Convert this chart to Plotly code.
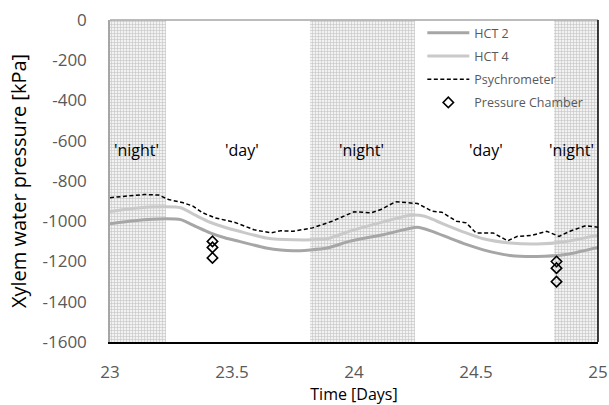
import plotly.graph_objects as go

# ---- data ----
hct2_t = [23.00, 23.10, 23.23, 23.29, 23.35, 23.41, 23.47, 23.53, 23.64, 23.75, 23.89, 23.98, 24.12, 24.26, 24.32, 24.39, 24.46, 24.53, 24.64, 24.75, 24.86, 25.00]
hct2_v = [-1012, -997, -988, -992, -1025, -1058, -1082, -1100, -1133, -1147, -1133, -1100, -1067, -1030, -1050, -1083, -1115, -1142, -1170, -1175, -1167, -1130]

hct4_t = [23.00, 23.10, 23.23, 23.29, 23.35, 23.41, 23.47, 23.53, 23.64, 23.75, 23.89, 23.98, 24.12, 24.23, 24.29, 24.34, 24.39, 24.46, 24.53, 24.64, 24.75, 24.86, 25.00]
hct4_v = [-952, -935, -928, -933, -970, -1005, -1030, -1050, -1083, -1092, -1087, -1050, -1003, -970, -975, -1000, -1025, -1058, -1087, -1108, -1113, -1103, -1070]

psy_t = [23.00, 23.06, 23.14, 23.20, 23.24, 23.30, 23.34, 23.38, 23.43, 23.51, 23.59, 23.66, 23.70, 23.75, 23.83, 23.91, 24.00, 24.07, 24.11, 24.17, 24.26, 24.32, 24.36, 24.42, 24.46, 24.50, 24.57, 24.63, 24.67, 24.73, 24.79, 24.84, 24.89, 24.95, 25.00]
psy_v = [-883, -875, -867, -870, -892, -908, -925, -958, -983, -1005, -1042, -1058, -1047, -1050, -1033, -1000, -953, -958, -942, -903, -912, -950, -955, -1000, -1008, -1058, -1058, -1097, -1075, -1070, -1050, -1075, -1047, -1022, -1030]

pc_t = [23.42, 23.42, 23.42, 24.83, 24.83, 24.83]
pc_v = [-1100, -1130, -1182, -1200, -1233, -1300]

night_start = [23.00, 23.82, 24.82]
night_end = [23.23, 24.25, 25.00]

label_text = ["'night'", "'day'", "'night'", "'day'", "'night'"]
label_t = [23.11, 23.54, 24.03, 24.54, 24.89]
label_v = [-645, -645, -645, -645, -645]

x_ticks = [23, 23.5, 24, 24.5, 25]
x_ticktext = ["23", "23.5", "24", "24.5", "25"]
y_ticks = [0, -200, -400, -600, -800, -1000, -1200, -1400, -1600]
y_ticktext = ["0", "-200", "-400", "-600", "-800", "-1000", "-1200", "-1400", "-1600"]

FONT = "Open Sans"

fig = go.Figure()

# night shading
fig.add_trace(go.Bar(
    x=[(s + e) / 2 for s, e in zip(night_start, night_end)],
    y=[1600] * len(night_start),
    base=[-1600] * len(night_start),
    width=[e - s for s, e in zip(night_start, night_end)],
    marker=dict(color="#eeeeee", line=dict(width=0),
                pattern=dict(shape="+", size=3, solidity=0.35,
                             fgcolor="#c4c4c4", bgcolor="#f2f2f2", fillmode="replace")),
    showlegend=False, hoverinfo="skip",
))

fig.add_trace(go.Scatter(x=hct2_t, y=hct2_v, mode="lines", name="HCT 2",
                         line=dict(color="#a6a6a6", width=3, shape="spline", smoothing=0.6),
                         legendgroup="a"))
fig.add_trace(go.Scatter(x=hct4_t, y=hct4_v, mode="lines", name="HCT 4",
                         line=dict(color="#c9c9c9", width=3, shape="spline", smoothing=0.6),
                         legendgroup="b"))
fig.add_trace(go.Scatter(x=psy_t, y=psy_v, mode="lines", name="Psychrometer",
                         line=dict(color="black", width=1.5, dash="4px,2.5px"),
                         legendgroup="c"))
fig.add_trace(go.Scatter(x=pc_t, y=pc_v, mode="markers", name="Pressure Chamber",
                         marker=dict(symbol="diamond-open", size=8, color="black",
                                     line=dict(width=1.6, color="black")),
                         legendgroup="d"))

for txt, t, v in zip(label_text, label_t, label_v):
    fig.add_annotation(x=t, y=v, text=txt, showarrow=False,
                       font=dict(family=FONT, size=16, color="black"))

# top (gray) and right (black) frame lines
fig.add_shape(type="line", xref="paper", yref="paper", x0=0, x1=1, y0=1, y1=1,
              line=dict(color="#a6a6a6", width=1.5))
fig.add_shape(type="line", xref="paper", yref="paper", x0=1, x1=1, y0=0, y1=1,
              line=dict(color="black", width=1.5))

fig.update_layout(
    width=609, height=405,
    margin=dict(l=110, r=11, t=20, b=63, autoexpand=False),
    paper_bgcolor="white", plot_bgcolor="white",
    font=dict(family=FONT, color="#595959"),
    bargap=0,
    legend=dict(x=0.64, y=1.006, xanchor="left", yanchor="top",
                bgcolor="rgba(0,0,0,0)", font=dict(size=12.5, color="#595959"),
                tracegroupgap=4, itemwidth=42),
    xaxis=dict(range=[23, 25], tickvals=x_ticks, ticktext=x_ticktext, automargin=False,
               ticklabeloverflow="allow",
               showgrid=False, zeroline=False, showline=True, linecolor="black", linewidth=2,
               tickfont=dict(size=17, color="#595959"), ticklabelstandoff=14,
               title=dict(text="Time [Days]", font=dict(size=16, color="black"), standoff=19)),
    yaxis=dict(range=[-1600, 0], tickvals=y_ticks, ticktext=y_ticktext, automargin=False,
               ticklabeloverflow="allow",
               showgrid=False, zeroline=False, showline=True, linecolor="#a6a6a6", linewidth=1.5,
               tickfont=dict(size=17, color="#595959"), ticklabelstandoff=18,
               title=dict(text="Xylem water pressure [kPa]", font=dict(size=20, color="black"), standoff=10)),
)

fig.write_html("out.html", config={"displayModeBar": False},
               post_script="document.body.style.margin='0';document.body.style.overflow='hidden';")
